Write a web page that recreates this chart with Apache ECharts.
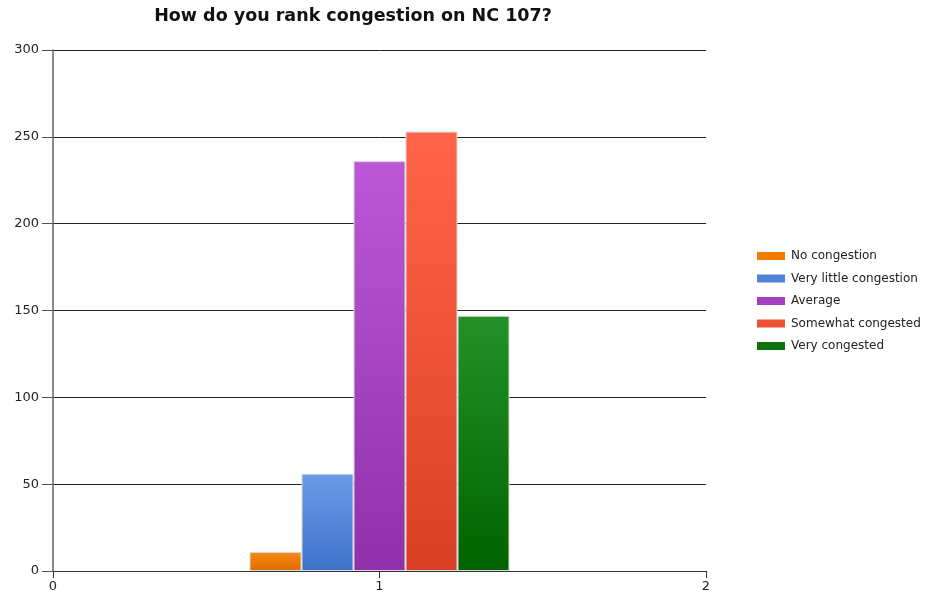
<!DOCTYPE html>
<html>
<head>
<meta charset="utf-8">
<script src="https://cdn.jsdelivr.net/npm/echarts@6/dist/echarts.min.js"></script>
<style>html,body{margin:0;padding:0;background:#fff}#c{width:925px;height:594px}</style>
</head>
<body>
<div id="c"></div>
<script>
const title = "How do you rank congestion on NC 107?";
const seriesNames = ["No congestion", "Very little congestion", "Average", "Somewhat congested", "Very congested"];
const xPosition = 1;
const values = [11, 56, 236, 253, 147];
const yTicks = [0, 50, 100, 150, 200, 250, 300];
const xTicks = [0, 1, 2];
const colorsTop = ["#f88c12", "#6b9ce9", "#bc58d7", "#ff6549", "#239129"];
const colorsBottom = ["#dd6a00", "#3e72cb", "#9030aa", "#d84024", "#006300"];
const legendColors = ["#f07d00", "#4f82d8", "#a640c0", "#ee5236", "#0c730f"];

const FONT = "'DejaVu Sans', Verdana, sans-serif";
const chart = echarts.init(document.getElementById('c'), null, {renderer: 'canvas'});
const series = seriesNames.map((n, i) => ({
  name: n,
  type: 'bar',
  data: [[xPosition, values[i]]],
  barWidth: 52,
  barGap: '0%',
  itemStyle: {
    color: new echarts.graphic.LinearGradient(0, 0, 0, 1, [
      {offset: 0, color: colorsTop[i]},
      {offset: 1, color: colorsBottom[i]}
    ]),
    borderColor: '#d8d8d8',
    borderWidth: 1
  },
  emphasis: {disabled: true}
}));

chart.setOption({
  animation: false,
  backgroundColor: '#fff',
  title: {
    text: title,
    left: 353,
    textAlign: 'center',
    top: 7,
    padding: 0,
    textStyle: {fontFamily: FONT, fontSize: 17.5, fontWeight: 'bold', color: '#111'}
  },
  legend: {
    orient: 'vertical',
    left: 757,
    top: 249,
    padding: 0,
    icon: 'rect',
    itemWidth: 28,
    itemHeight: 8,
    itemGap: 8.5,
    data: seriesNames.map((n, i) => ({name: n, itemStyle: {color: legendColors[i], borderWidth: 0}})),
    textStyle: {fontFamily: FONT, fontSize: 12, lineHeight: 14, color: '#222', padding: [0, 0, 0, 1]}
  },
  grid: {left: 53, right: 219, top: 50, bottom: 23, containLabel: false},
  xAxis: {
    type: 'value',
    min: xTicks[0],
    max: xTicks[xTicks.length - 1],
    interval: 1,
    axisLine: {show: true, lineStyle: {color: '#333', width: 1}},
    axisTick: {show: true, length: 7, lineStyle: {color: '#333'}},
    axisLabel: {fontFamily: FONT, fontSize: 13, color: '#222', margin: 9},
    splitLine: {show: false}
  },
  yAxis: {
    type: 'value',
    min: yTicks[0],
    max: yTicks[yTicks.length - 1],
    interval: 50,
    axisLine: {show: true, lineStyle: {color: '#666', width: 1.5}},
    axisTick: {show: true, length: 11, lineStyle: {color: '#555'}},
    axisLabel: {fontFamily: FONT, fontSize: 13, color: '#222', margin: 14},
    splitLine: {show: true, lineStyle: {color: '#222', width: 1}}
  },
  series: series
});
</script>
</body>
</html>
